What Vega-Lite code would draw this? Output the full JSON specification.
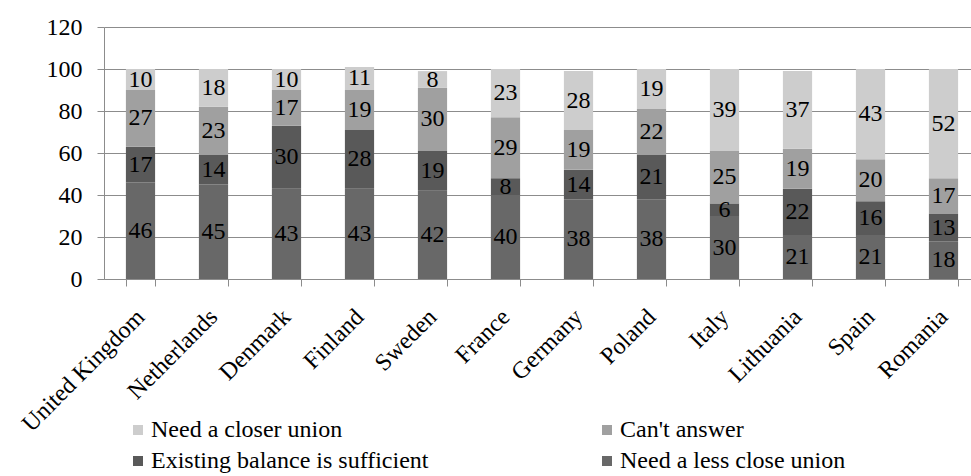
{
  "$schema": "https://vega.github.io/schema/vega-lite/v6.json",
  "autosize": {"type": "none"},
  "width": 867,
  "height": 252,
  "padding": {"left": 104, "top": 27, "right": 0, "bottom": 197},
  "background": "white",
  "config": {"view": {"stroke": null}, "font": "'Liberation Serif', 'Times New Roman', serif"},
  "data": {"values": [
    {"country": "United Kingdom", "category": "Need a less close union", "pct": 46},
    {"country": "United Kingdom", "category": "Existing balance is sufficient", "pct": 17},
    {"country": "United Kingdom", "category": "Can't answer", "pct": 27},
    {"country": "United Kingdom", "category": "Need a closer union", "pct": 10},
    {"country": "Netherlands", "category": "Need a less close union", "pct": 45},
    {"country": "Netherlands", "category": "Existing balance is sufficient", "pct": 14},
    {"country": "Netherlands", "category": "Can't answer", "pct": 23},
    {"country": "Netherlands", "category": "Need a closer union", "pct": 18},
    {"country": "Denmark", "category": "Need a less close union", "pct": 43},
    {"country": "Denmark", "category": "Existing balance is sufficient", "pct": 30},
    {"country": "Denmark", "category": "Can't answer", "pct": 17},
    {"country": "Denmark", "category": "Need a closer union", "pct": 10},
    {"country": "Finland", "category": "Need a less close union", "pct": 43},
    {"country": "Finland", "category": "Existing balance is sufficient", "pct": 28},
    {"country": "Finland", "category": "Can't answer", "pct": 19},
    {"country": "Finland", "category": "Need a closer union", "pct": 11},
    {"country": "Sweden", "category": "Need a less close union", "pct": 42},
    {"country": "Sweden", "category": "Existing balance is sufficient", "pct": 19},
    {"country": "Sweden", "category": "Can't answer", "pct": 30},
    {"country": "Sweden", "category": "Need a closer union", "pct": 8},
    {"country": "France", "category": "Need a less close union", "pct": 40},
    {"country": "France", "category": "Existing balance is sufficient", "pct": 8},
    {"country": "France", "category": "Can't answer", "pct": 29},
    {"country": "France", "category": "Need a closer union", "pct": 23},
    {"country": "Germany", "category": "Need a less close union", "pct": 38},
    {"country": "Germany", "category": "Existing balance is sufficient", "pct": 14},
    {"country": "Germany", "category": "Can't answer", "pct": 19},
    {"country": "Germany", "category": "Need a closer union", "pct": 28},
    {"country": "Poland", "category": "Need a less close union", "pct": 38},
    {"country": "Poland", "category": "Existing balance is sufficient", "pct": 21},
    {"country": "Poland", "category": "Can't answer", "pct": 22},
    {"country": "Poland", "category": "Need a closer union", "pct": 19},
    {"country": "Italy", "category": "Need a less close union", "pct": 30},
    {"country": "Italy", "category": "Existing balance is sufficient", "pct": 6},
    {"country": "Italy", "category": "Can't answer", "pct": 25},
    {"country": "Italy", "category": "Need a closer union", "pct": 39},
    {"country": "Lithuania", "category": "Need a less close union", "pct": 21},
    {"country": "Lithuania", "category": "Existing balance is sufficient", "pct": 22},
    {"country": "Lithuania", "category": "Can't answer", "pct": 19},
    {"country": "Lithuania", "category": "Need a closer union", "pct": 37},
    {"country": "Spain", "category": "Need a less close union", "pct": 21},
    {"country": "Spain", "category": "Existing balance is sufficient", "pct": 16},
    {"country": "Spain", "category": "Can't answer", "pct": 20},
    {"country": "Spain", "category": "Need a closer union", "pct": 43},
    {"country": "Romania", "category": "Need a less close union", "pct": 18},
    {"country": "Romania", "category": "Existing balance is sufficient", "pct": 13},
    {"country": "Romania", "category": "Can't answer", "pct": 17},
    {"country": "Romania", "category": "Need a closer union", "pct": 52}
  ]},
  "transform": [
    {"window": [{"op": "row_number", "as": "stack_rank"}], "groupby": ["country"]}
  ],
  "encoding": {
    "x": {
      "field": "country", "type": "nominal",
      "sort": ["United Kingdom", "Netherlands", "Denmark", "Finland", "Sweden", "France", "Germany", "Poland", "Italy", "Lithuania", "Spain", "Romania"],
      "scale": {"type": "band", "range": [0, 876], "paddingInner": 0.6, "paddingOuter": 0.3},
      "axis": {
        "title": null, "labelAngle": -45, "labelAlign": "right", "labelBaseline": "middle",
        "labelPadding": 27, "labelFontSize": 24, "labelColor": "black",
        "tickBand": "extent", "tickSize": 7, "tickColor": "#8c8c8c", "domainColor": "#8c8c8c", "labelOverlap": false
      }
    }
  },
  "layer": [
    {
      "mark": {"type": "bar"},
      "encoding": {
        "y": {
          "field": "pct", "type": "quantitative", "stack": "zero",
          "scale": {"domain": [0, 120], "nice": false},
          "axis": {
            "title": null, "values": [0, 20, 40, 60, 80, 100, 120], "grid": true, "gridColor": "#8c8c8c",
            "domain": true, "domainColor": "#8c8c8c", "tickSize": 7, "tickColor": "#8c8c8c", "labelPadding": 15,
            "labelFontSize": 24, "labelColor": "black"
          }
        },
        "order": {"field": "stack_rank", "type": "quantitative", "sort": "ascending"},
        "color": {
          "field": "category", "type": "nominal",
          "scale": {
            "domain": ["Need a closer union", "Existing balance is sufficient", "Can't answer", "Need a less close union"],
            "range": ["#cdcdcd", "#595959", "#a0a0a0", "#686868"]
          },
          "legend": {
            "title": null, "orient": "none", "legendX": 22, "legendY": 391, "columns": 2,
            "symbolType": "square", "symbolSize": 100, "symbolStrokeWidth": 0,
            "labelFontSize": 24, "labelColor": "black",
            "labelOffset": 1, "rowPadding": 7, "columnPadding": 166, "labelLimit": 400
          }
        }
      }
    },
    {
      "transform": [
        {"stack": "pct", "groupby": ["country"], "sort": [{"field": "stack_rank", "order": "ascending"}], "as": ["seg_lo", "seg_hi"]},
        {"fold": ["seg_lo", "seg_hi"], "as": ["edge", "edge_value"]}
      ],
      "mark": {"type": "text", "baseline": "middle", "fontSize": 24, "color": "black"},
      "encoding": {
        "y": {"aggregate": "mean", "field": "edge_value", "type": "quantitative", "stack": null},
        "text": {"aggregate": "max", "field": "pct", "type": "quantitative"},
        "detail": {"field": "category", "type": "nominal"}
      }
    }
  ]
}
